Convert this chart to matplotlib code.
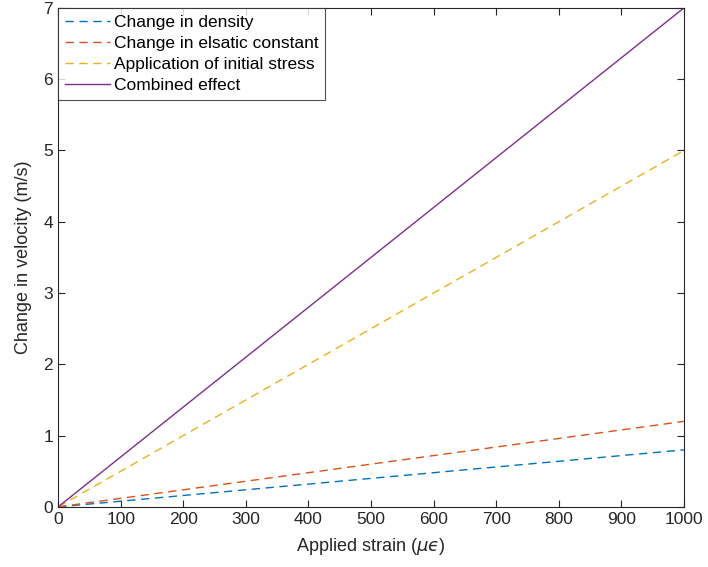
import matplotlib
matplotlib.use("Agg")
import matplotlib.pyplot as plt

# strain range (micro-strain) and velocity change at the end points
strain = [0, 1000]
dv_density = [0, 0.8]
dv_elastic = [0, 1.2]
dv_stress = [0, 5.0]
dv_combined = [0, 7.0]

plt.rcParams["font.family"] = ["Liberation Sans", "DejaVu Sans"]
plt.rcParams["mathtext.fontset"] = "dejavusans"

fig = plt.figure(figsize=(7.08, 5.67), dpi=100)
ax = fig.add_axes([0.082, 0.106, 0.884, 0.880])

dash = (0, (6, 4))
ax.plot(strain, dv_density, color="#0072BD", lw=1.0, ls=dash, label="Change in density")
ax.plot(strain, dv_elastic, color="#D95319", lw=1.0, ls=dash, label="Change in elsatic constant")
ax.plot(strain, dv_stress, color="#EDB120", lw=1.0, ls=dash, label="Application of initial stress")
ax.plot(strain, dv_combined, color="#7E2F8E", lw=1.0, label="Combined effect")

ax.set_xlim(0, 1000)
ax.set_ylim(0, 7)
ax.set_xticks(range(0, 1001, 100))
ax.set_yticks(range(0, 8))
ax.tick_params(direction="in", top=True, right=True, labelsize=12.5, colors="#262626", length=5)
for s in ax.spines.values():
    s.set_color("#262626")
    s.set_linewidth(0.8)

ax.set_xlabel("Applied strain ($\\mu\u03f5$)", fontsize=13, color="#262626", labelpad=7)
ax.set_ylabel("Change in velocity (m/s)", fontsize=13, color="#262626", labelpad=8)

leg = ax.legend(loc="upper left", fontsize=12.5, frameon=True, fancybox=False,
                borderaxespad=0.0, handlelength=2.6, handletextpad=0.2,
                labelspacing=0.33, borderpad=0.4)
leg.get_frame().set_edgecolor("#262626")
leg.get_frame().set_linewidth(0.8)

fig.savefig("out.png", dpi=100)
